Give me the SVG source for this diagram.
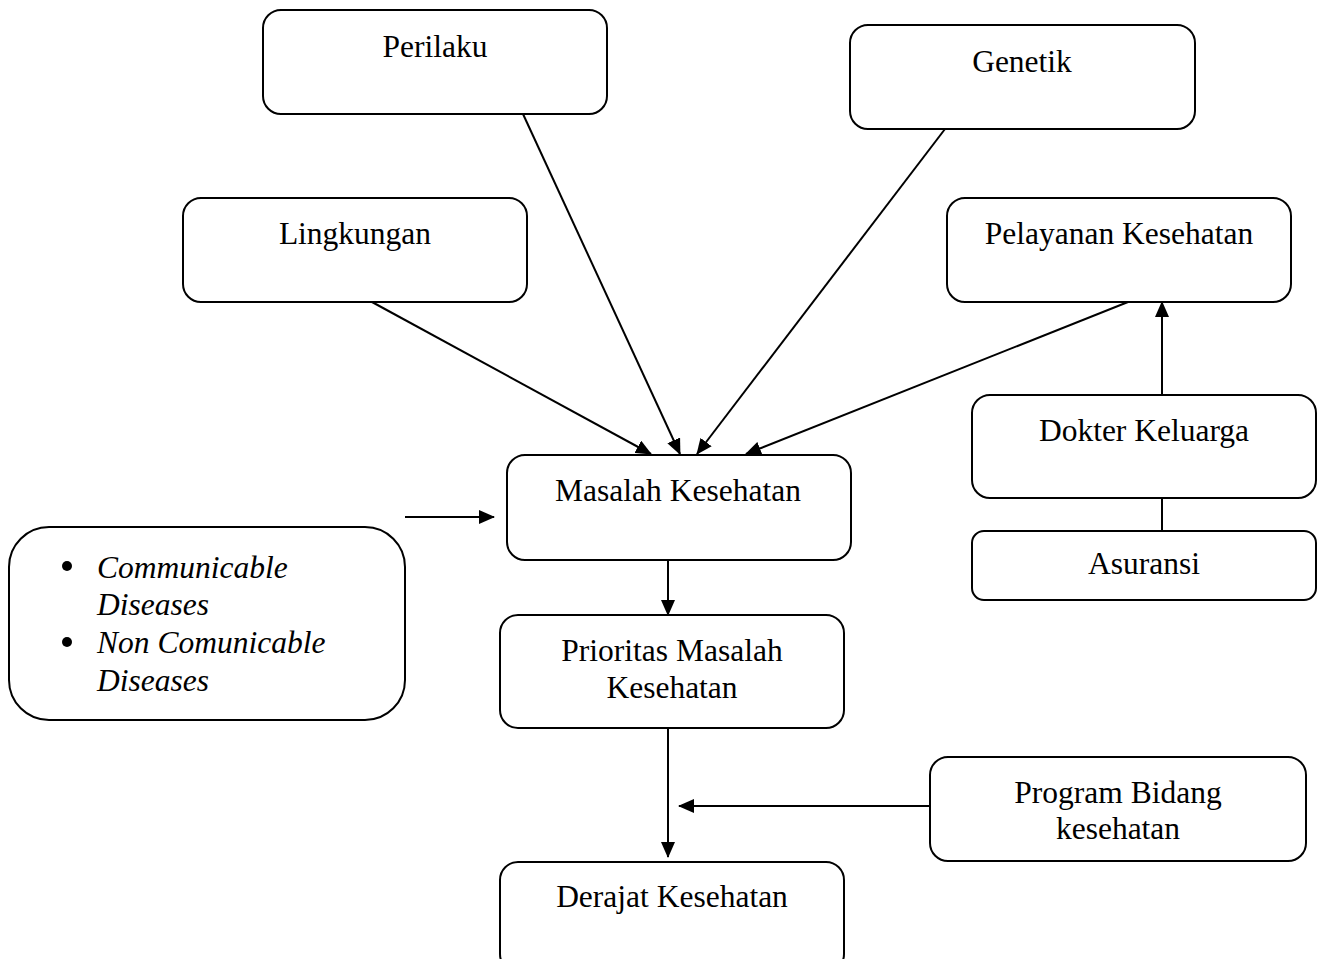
<svg xmlns="http://www.w3.org/2000/svg" width="1324" height="959" viewBox="0 0 1324 959">
<style>
.box{fill:#fff;stroke:#000;stroke-width:2}
.t{font-family:"Liberation Serif","Times New Roman",serif;font-size:31.5px;fill:#000;text-anchor:middle}
.i{font-family:"Liberation Serif","Times New Roman",serif;font-size:31.5px;fill:#000;font-style:italic}
.c{stroke:#000;stroke-width:2;fill:none}
</style>
<defs>
<marker id="ah" markerWidth="16" markerHeight="14" refX="15" refY="7" orient="auto" markerUnits="userSpaceOnUse">
<path d="M0,0 L16,7 L0,14 Z" fill="#000"/>
</marker>
</defs>
<rect width="1324" height="959" fill="#fff"/>
<g id="connectors">
<line class="c" x1="372" y1="302" x2="651" y2="454" marker-end="url(#ah)"/>
<line class="c" x1="523" y1="114" x2="680" y2="454" marker-end="url(#ah)"/>
<line class="c" x1="945" y1="129" x2="697" y2="454" marker-end="url(#ah)"/>
<line class="c" x1="1128" y1="302" x2="746" y2="454" marker-end="url(#ah)"/>
<line class="c" x1="1162" y1="395" x2="1162" y2="302" marker-end="url(#ah)"/>
<line class="c" x1="1162" y1="531" x2="1162" y2="498"/>
<line class="c" x1="405" y1="517" x2="494" y2="517" marker-end="url(#ah)"/>
<line class="c" x1="668" y1="560" x2="668" y2="615" marker-end="url(#ah)"/>
<line class="c" x1="668" y1="728" x2="668" y2="857" marker-end="url(#ah)"/>
<line class="c" x1="930" y1="806" x2="679" y2="806" marker-end="url(#ah)"/>
</g>
<g id="perilaku"><rect class="box" x="263" y="10" width="344" height="104" rx="18"/><text class="t" x="435" y="57">Perilaku</text></g>
<g id="genetik"><rect class="box" x="850" y="25" width="345" height="104" rx="18"/><text class="t" x="1022" y="72">Genetik</text></g>
<g id="lingkungan"><rect class="box" x="183" y="198" width="344" height="104" rx="18"/><text class="t" x="355" y="244">Lingkungan</text></g>
<g id="pelayanan"><rect class="box" x="947" y="198" width="344" height="104" rx="18"/><text class="t" x="1119" y="244">Pelayanan Kesehatan</text></g>
<g id="dokter"><rect class="box" x="972" y="395" width="344" height="103" rx="18"/><text class="t" x="1144" y="441">Dokter Keluarga</text></g>
<g id="asuransi"><rect class="box" x="972" y="531" width="344" height="69" rx="12"/><text class="t" x="1144" y="574">Asuransi</text></g>
<g id="masalah"><rect class="box" x="507" y="455" width="344" height="105" rx="18"/><text class="t" x="678" y="501">Masalah Kesehatan</text></g>
<g id="diseases"><rect class="box" x="9" y="527" width="396" height="193" rx="40"/>
<circle cx="67" cy="566" r="5" fill="#000"/><circle cx="67" cy="642" r="5" fill="#000"/>
<text class="i" x="97" y="578">Communicable</text>
<text class="i" x="97" y="615">Diseases</text>
<text class="i" x="97" y="653">Non Comunicable</text>
<text class="i" x="97" y="691">Diseases</text>
</g>
<g id="prioritas"><rect class="box" x="500" y="615" width="344" height="113" rx="18"/><text class="t" x="672" y="661">Prioritas Masalah</text><text class="t" x="672" y="698">Kesehatan</text></g>
<g id="program"><rect class="box" x="930" y="757" width="376" height="104" rx="18"/><text class="t" x="1118" y="803">Program Bidang</text><text class="t" x="1118" y="839">kesehatan</text></g>
<g id="derajat"><rect class="box" x="500" y="862" width="344" height="110" rx="18"/><text class="t" x="672" y="907">Derajat Kesehatan</text></g>
</svg>
